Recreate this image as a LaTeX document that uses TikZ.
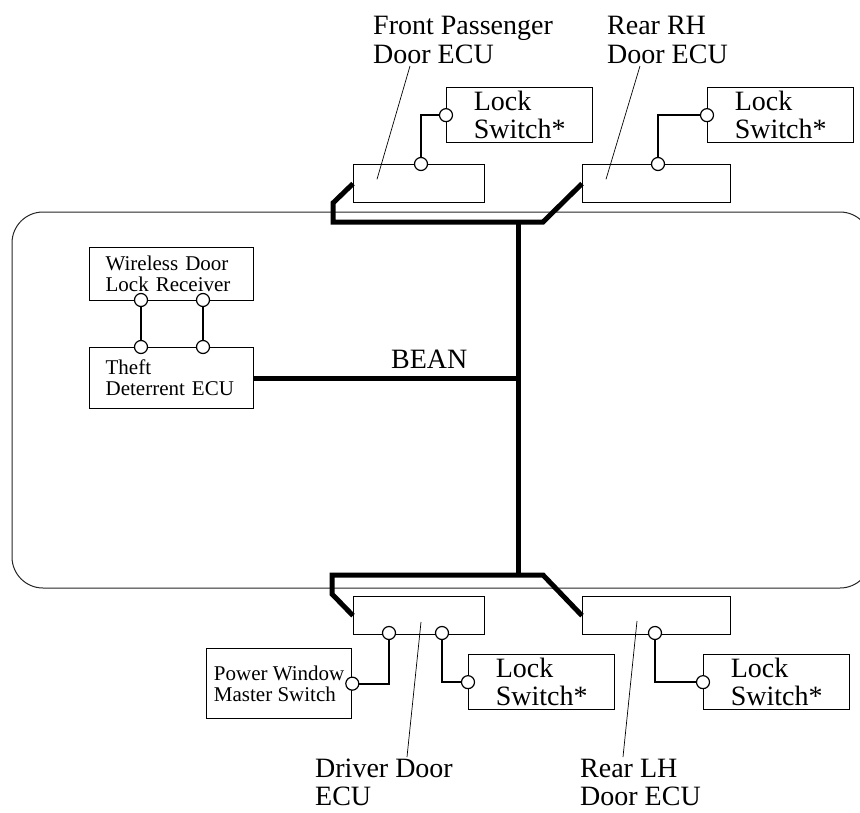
\documentclass[tikz,border=0pt]{standalone}
\usepackage{fontspec}
\setmainfont{Liberation Serif}
\usetikzlibrary{calc}
\newcommand{\lblfont}{\fontsize{28}{28}\selectfont}
\newcommand{\smlfont}{\fontsize{21}{21}\selectfont}
\begin{document}
\begin{tikzpicture}[x=1pt,y=-1pt,
	unit/.style={draw, line width=1.3pt, inner sep=0pt, anchor=north west},
	ecubox/.style={unit, minimum height=38pt},
	lockbox/.style={unit, minimum width=146pt, minimum height=55pt, align=left, font=\lblfont},
	smallbox/.style={unit, align=left, font=\smlfont},
	port/.style={circle, draw, fill=white, line width=1.2pt, inner sep=0pt, minimum size=13pt},
	wire/.style={line width=1.8pt},
	bus/.style={line width=5pt, line join=miter},
	leader/.style={line width=0.7pt},
	lbl/.style={anchor=base west, inner sep=0pt, font=\lblfont}]
	\useasboundingbox (0,0) rectangle (860,812);
	\clip (0,0) rectangle (860,812);
	\draw[line width=1pt, black!85, rounded corners=31pt] (12,212) rectangle (871,588);
	
	\node[ecubox, minimum width=131pt] (fp) at (353,164) {};
	\node[ecubox, minimum width=148pt] (rh) at (582,164) {};
	\node[ecubox, minimum width=131pt] (drv) at (353,596) {};
	\node[ecubox, minimum width=148pt] (lh) at (582,596) {};
	
	\node[lockbox] (fpls) at (446,87) {Lock\\Switch*};
	\node[lockbox] (rhls) at (707,87) {Lock\\Switch*};
	\node[lockbox] (drvls) at (468,654) {Lock\\Switch*};
	\node[lockbox] (lhls) at (703,654) {Lock\\Switch*};
	
	\node[smallbox, inner xsep=16pt, text width=132pt, minimum height=53pt] (rcv) at (89,247) {Wireless Door\\Lock Receiver};
	\node[smallbox, inner xsep=16pt, text width=132pt, minimum height=61pt] (tdecu) at (89,347) {Theft\\Deterrent ECU};
	\node[smallbox, minimum width=145pt, minimum height=70pt] (pwms) at (206,648) {Power Window\\Master Switch};
	
	\coordinate (busT) at (518,222);
	\coordinate (busB) at (518,575);
	\draw[bus] (fp.west) -- (333,203) -- (333,222) -- (543,222) -- (rh.west);
	\draw[bus] (busT) -- (busB);
	\draw[bus] (drv.west) -- (332,594) -- (332,575) -- (543,575) -- (lh.west);
	\draw[bus] (tdecu.east) -- (tdecu.east -| busT);
	\node[lbl] (bean) at (391,368) {BEAN};
	
	\coordinate (fpP) at (421,164);
	\coordinate (rhP) at (658,164);
	\coordinate (drvA) at (389,633);
	\coordinate (drvB) at (442,633);
	\coordinate (lhP) at (655,633);
	\coordinate (rcvA) at (141,300);
	\coordinate (rcvB) at (203,300);
	\coordinate (tdA) at (rcvA |- tdecu.north);
	\coordinate (tdB) at (rcvB |- tdecu.north);
	\draw[wire] (fpP) |- (fpls.west);
	\draw[wire] (rhP) |- (rhls.west);
	\draw[wire] (drvA) |- (pwms.east);
	\draw[wire] (drvB) |- (drvls.west);
	\draw[wire] (lhP) |- (lhls.west);
	\draw[wire] (rcvA) -- (tdA);
	\draw[wire] (rcvB) -- (tdB);
	\foreach \p in {fpP, rhP, drvA, drvB, lhP, rcvA, rcvB, tdA, tdB, fpls.west, rhls.west, drvls.west, lhls.west, pwms.east}
		\node[port] (\p-o) at (\p) {};
	
	\node[lbl] (fpL1) at (373,34) {Front Passenger};
	\node[lbl] (fpL2) at (373,63) {Door ECU};
	\node[lbl] (rhL1) at (607,34) {Rear RH};
	\node[lbl] (rhL2) at (607,63) {Door ECU};
	\node[lbl] (drvL1) at (315,777) {Driver Door};
	\node[lbl] (drvL2) at (315,805) {ECU};
	\node[lbl] (lhL1) at (580,777) {Rear LH};
	\node[lbl] (lhL2) at (580,805) {Door ECU};
	
	\draw[leader] ($(fp.south west)+(24,-24)$) -- ($(fpL2.base west)+(37,3)$);
	\draw[leader] ($(rh.south west)+(24,-24)$) -- ($(rhL2.base west)+(33,3)$);
	\draw[leader] ($(drv.north west)+(68,26)$) -- ($(drvL1.base west)+(92,-20)$);
	\draw[leader] ($(lh.north west)+(55,25)$) -- ($(lhL1.base west)+(43,-20)$);
	
\end{tikzpicture}
\end{document}
